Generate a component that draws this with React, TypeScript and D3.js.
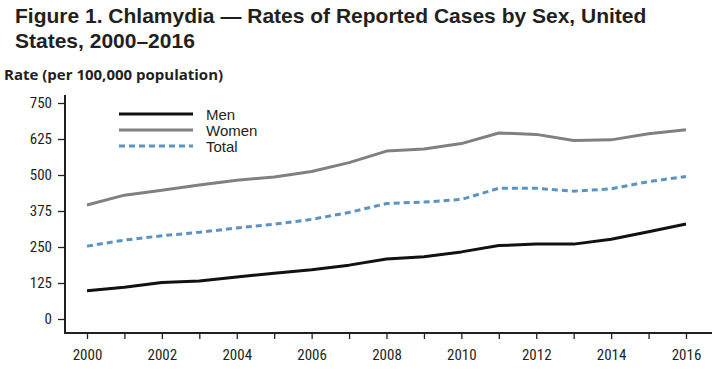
import React, { useEffect, useRef } from 'react';
import * as d3 from 'd3';

const years = d3.range(2000, 2017);
const men = [98, 110, 127, 132, 146, 159, 171, 187, 208, 216, 233, 255, 260, 260, 277, 303, 330];
const women = [396, 430, 447, 465, 482, 493, 512, 543, 583, 590, 609, 646, 641, 620, 622, 643, 657];
const total = [253, 274, 289, 301, 316, 329, 346, 370, 401, 406, 415, 454, 454, 444, 452, 477, 495];
const yTicks = [0, 125, 250, 375, 500, 625, 750];
const xTickLabels = [2000, 2002, 2004, 2006, 2008, 2010, 2012, 2014, 2016];

const series = [
  { name: 'Men', values: men, color: '#111111', dash: null },
  { name: 'Women', values: women, color: '#808080', dash: null },
  { name: 'Total', values: total, color: '#5b93c3', dash: '6,4' },
];

export default function App() {
  const svgRef = useRef<SVGSVGElement | null>(null);

  useEffect(() => {
    if (!svgRef.current) return;
    d3.select(svgRef.current).selectAll('*').remove();

    const width = 720;
    const height = 370;
    const svg = d3.select(svgRef.current)
      .attr('width', width)
      .attr('height', height);

    const axisFont = "'Liberation Sans Narrow', 'Roboto Condensed', 'Liberation Sans', Arial, sans-serif";

    // Title
    const title = svg.append('text')
      .attr('font-family', "'Liberation Sans', Arial, sans-serif")
      .attr('font-weight', 'bold')
      .attr('font-size', 21)
      .attr('fill', '#231f20');
    title.append('tspan').attr('x', 15).attr('y', 23)
      .text('Figure 1. Chlamydia — Rates of Reported Cases by Sex, United');
    title.append('tspan').attr('x', 15).attr('y', 48)
      .text('States, 2000–2016');

    svg.append('text')
      .attr('x', 4)
      .attr('y', 80)
      .attr('font-family', "'Open Sans', sans-serif")
      .attr('font-weight', 'bold')
      .attr('font-size', 15)
      .attr('fill', '#231f20')
      .text('Rate (per 100,000 population)');

    const x = d3.scaleLinear().domain([2000, 2016]).range([87, 686]);
    const y = d3.scaleLinear().domain([0, 750]).range([319, 103]);

    // y axis
    const yAxis = svg.append('g')
      .attr('transform', 'translate(65,0)')
      .call(d3.axisLeft(y).tickValues(yTicks).tickSize(7).tickPadding(6));
    yAxis.select('.domain').remove();
    yAxis.selectAll('line').attr('stroke', '#231f20').attr('stroke-width', 1.3);
    yAxis.selectAll('text')
      .attr('font-family', axisFont)
      .attr('font-size', 15)
      .attr('fill', '#231f20');
    svg.append('line')
      .attr('x1', 65).attr('x2', 65)
      .attr('y1', 95).attr('y2', 334)
      .attr('stroke', '#231f20').attr('stroke-width', 2);

    // x axis
    const xAxis = svg.append('g')
      .attr('transform', 'translate(0,333)')
      .call(d3.axisBottom(x).tickValues(years).tickSize(6).tickPadding(10)
        .tickFormat(d => (xTickLabels.includes(+d) ? String(d) : '')));
    xAxis.select('.domain').remove();
    xAxis.selectAll('line').attr('stroke', '#231f20').attr('stroke-width', 1.3);
    xAxis.selectAll('text')
      .attr('font-family', axisFont)
      .attr('font-size', 15)
      .attr('fill', '#231f20');
    svg.append('line')
      .attr('x1', 64).attr('x2', 712)
      .attr('y1', 333).attr('y2', 333)
      .attr('stroke', '#231f20').attr('stroke-width', 2);

    // lines
    const line = d3.line<number>()
      .x((_, i) => x(years[i]))
      .y(d => y(d));

    series.forEach(s => {
      const p = svg.append('path')
        .datum(s.values)
        .attr('fill', 'none')
        .attr('stroke', s.color)
        .attr('stroke-width', 3)
        .attr('stroke-linejoin', 'round')
        .attr('d', line);
      if (s.dash) p.attr('stroke-dasharray', s.dash);
    });

    // legend
    const legend = svg.append('g');
    series.forEach((s, i) => {
      const ly = 114 + i * 16;
      const l = legend.append('line')
        .attr('x1', 119).attr('x2', 193)
        .attr('y1', ly).attr('y2', ly)
        .attr('stroke', s.color)
        .attr('stroke-width', 3);
      if (s.dash) l.attr('stroke-dasharray', s.dash);
      legend.append('text')
        .attr('x', 206)
        .attr('y', ly + 6)
        .attr('font-family', "'Liberation Sans', Arial, sans-serif")
        .attr('font-size', 15)
        .attr('fill', '#231f20')
        .text(s.name);
    });
  }, []);

  return <svg ref={svgRef} style={{ position: 'absolute', left: 0, top: 0 }}></svg>;
}
